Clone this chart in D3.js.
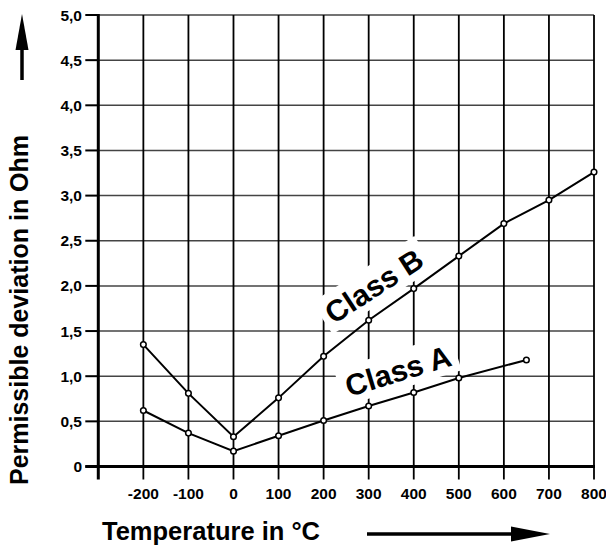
<!DOCTYPE html>
<html>
<head>
<meta charset="utf-8">
<script src="https://cdn.jsdelivr.net/npm/d3@7"></script>
<style>
  body { margin: 0; background: #fff; }
  svg { display: block; font-family: "Liberation Sans", Arial, sans-serif; font-weight: bold; }
</style>
</head>
<body>
<div id="chart"></div>
<script>
// values
const temps = [-200, -100, 0, 100, 200, 300, 400, 500, 600, 700, 800];
const classB = [1.35, 0.81, 0.33, 0.76, 1.22, 1.62, 1.97, 2.33, 2.69, 2.95, 3.26];
const tempsA = [-200, -100, 0, 100, 200, 300, 400, 500, 650];
const classA = [0.62, 0.37, 0.17, 0.34, 0.51, 0.67, 0.82, 0.98, 1.18];
const xTicks = [-200, -100, 0, 100, 200, 300, 400, 500, 600, 700, 800];
const yTicks = [0, 0.5, 1, 1.5, 2, 2.5, 3, 3.5, 4, 4.5, 5];

const width = 606, height = 549;
const margin = { top: 15, right: 12, bottom: 82.5, left: 98.3 };

const x = d3.scaleLinear().domain([-300, 800]).range([margin.left, width - margin.right]);
const y = d3.scaleLinear().domain([0, 5]).range([height - margin.bottom, margin.top]);

const fmt = v => v === 0 ? '0' : d3.format('.1f')(v).replace('.', ',');

const svg = d3.select('#chart').append('svg')
    .attr('width', width)
    .attr('height', height);

const gridLayer = svg.append('g');
const labelLayer = svg.append('g');
const axisLayer = svg.append('g');
const dataLayer = svg.append('g');

// horizontal grid (grey)
gridLayer.append('g')
    .selectAll('line')
    .data(yTicks.filter(v => v > 0))
    .join('line')
    .attr('x1', x(-300)).attr('x2', x(800))
    .attr('y1', d => y(d)).attr('y2', d => y(d))
    .attr('stroke', '#444').attr('stroke-width', 1.5);

// vertical grid, running past the axis as ticks
gridLayer.append('g')
    .selectAll('line')
    .data(xTicks)
    .join('line')
    .attr('x1', d => x(d)).attr('x2', d => x(d))
    .attr('y1', y(5)).attr('y2', y(0) + 13)
    .attr('stroke', '#000').attr('stroke-width', 1.8);

// y ticks
axisLayer.append('g')
    .selectAll('line')
    .data(yTicks)
    .join('line')
    .attr('x1', x(-300) - 13).attr('x2', x(-300))
    .attr('y1', d => y(d)).attr('y2', d => y(d))
    .attr('stroke', '#000').attr('stroke-width', 2);

// labels for the curves, with a white box behind
function curveLabel(text, cx, cy, angle, size) {
    const g = labelLayer.append('g').attr('transform', `translate(${cx},${cy}) rotate(${angle})`);
    const w = size * 3.67, h = size;
    g.append('rect')
        .attr('x', -w / 2 - 6).attr('y', -h / 2 - 5)
        .attr('width', w + 12).attr('height', h + 8)
        .attr('fill', '#fff');
    g.append('text')
        .attr('text-anchor', 'middle')
        .attr('dy', '0.35em')
        .style('font-size', size + 'px')
        .text(text);
}
curveLabel('Class B', 374, 286, -33, 30);
curveLabel('Class A', 398, 371, -17, 30);

// axes
axisLayer.append('line')
    .attr('x1', x(-300)).attr('x2', x(-300))
    .attr('y1', y(5) - 1).attr('y2', y(0) + 13)
    .attr('stroke', '#000').attr('stroke-width', 3);
axisLayer.append('line')
    .attr('x1', x(-300) - 13).attr('x2', x(800) + 1)
    .attr('y1', y(0)).attr('y2', y(0))
    .attr('stroke', '#000').attr('stroke-width', 3);

// curves
const lineGen = d3.line().x(d => x(d[0])).y(d => y(d[1]));
const seriesB = temps.map((t, i) => [t, classB[i]]);
const seriesA = tempsA.map((t, i) => [t, classA[i]]);

[seriesB, seriesA].forEach(s => {
    dataLayer.append('path')
        .datum(s)
        .attr('d', lineGen)
        .attr('fill', 'none')
        .attr('stroke', '#000')
        .attr('stroke-width', 2);
    dataLayer.append('g')
        .selectAll('circle')
        .data(s)
        .join('circle')
        .attr('cx', d => x(d[0]))
        .attr('cy', d => y(d[1]))
        .attr('r', 2.8)
        .attr('fill', '#fff')
        .attr('stroke', '#000')
        .attr('stroke-width', 1.5);
});

// tick labels
axisLayer.append('g')
    .selectAll('text')
    .data(xTicks)
    .join('text')
    .attr('x', d => x(d))
    .attr('y', 499)
    .attr('text-anchor', 'middle')
    .style('font-size', '15.5px')
    .text(d => d);

axisLayer.append('g')
    .selectAll('text')
    .data(yTicks)
    .join('text')
    .attr('x', 82)
    .attr('y', d => y(d))
    .attr('dy', '0.36em')
    .attr('text-anchor', 'end')
    .style('font-size', '15.5px')
    .text(fmt);

// axis titles
axisLayer.append('text')
    .attr('transform', 'translate(28,310) rotate(-90)')
    .attr('text-anchor', 'middle')
    .style('font-size', '25px')
    .text('Permissible deviation in Ohm');

axisLayer.append('text')
    .attr('x', 211)
    .attr('y', 540)
    .attr('text-anchor', 'middle')
    .style('font-size', '25.5px')
    .text('Temperature in °C');

// arrows
axisLayer.append('line')
    .attr('x1', 22).attr('x2', 22).attr('y1', 80).attr('y2', 40)
    .attr('stroke', '#000').attr('stroke-width', 3.5);
axisLayer.append('path')
    .attr('d', d3.line()([[15.5, 50], [22, 14], [28.5, 50]]) + 'Z')
    .attr('fill', '#000');

axisLayer.append('line')
    .attr('x1', 367).attr('x2', 520).attr('y1', 534).attr('y2', 534)
    .attr('stroke', '#000').attr('stroke-width', 3.5);
axisLayer.append('path')
    .attr('d', d3.line()([[511, 526.5], [550, 534], [511, 541.5]]) + 'Z')
    .attr('fill', '#000');
</script>
</body>
</html>
